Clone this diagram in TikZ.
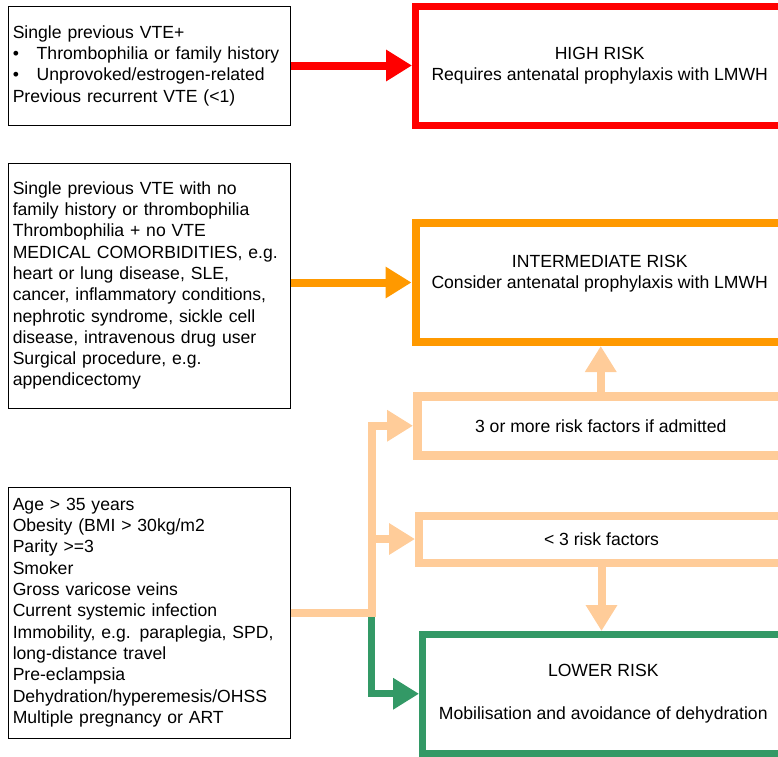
\documentclass[tikz,border=0pt]{standalone}
\usepackage{fontspec}
\setmainfont{Liberation Sans}
\usetikzlibrary{arrows.meta}
\definecolor{riskred}{HTML}{FF0000}
\definecolor{riskorange}{HTML}{FF9900}
\definecolor{riskpale}{HTML}{FFCC99}
\definecolor{riskgreen}{HTML}{339966}

\begin{document}
\begin{tikzpicture}[x=1pt,y=-1pt,
  every node/.style={font=\fontsize{17.6pt}{21.3pt}\selectfont},
  factors/.style={draw=black,line width=0.8pt,text width=273pt,align=left,inner xsep=4.5pt,minimum height=#1},
  risk/.style={draw=#1,align=center,inner sep=0pt},
  flow/.style={line width=8pt,-{Triangle[length=26pt,width=30pt]}}]
\useasboundingbox (0,0) rectangle (778,756);

\node[factors=119pt] (vte1) at (149.25,65.5) {Single previous VTE+\\
\makebox[24pt][l]{\textbullet}Thrombophilia or family history\\
\makebox[24pt][l]{\textbullet}Unprovoked/estrogen-related\\
Previous recurrent VTE (<1)};
\node[factors=245pt] (vte2) at (149.25,285.5) {Single previous VTE with no\\
family history or thrombophilia\\
Thrombophilia + no VTE\\
MEDICAL COMORBIDITIES, e.g.\\
heart or lung disease, SLE,\\
cancer, inflammatory conditions,\\
nephrotic syndrome, sickle cell\\
disease, intravenous drug user\\
Surgical procedure, e.g.\\
appendicectomy};
\node[factors=251pt] (minor) at (149.25,612.5) {Age > 35 years\\
Obesity (BMI > 30kg/m2\\
Parity >=3\\
Smoker\\
Gross varicose veins\\
Current systemic infection\\
Immobility, e.g. paraplegia, SPD,\\
long-distance travel\\
Pre-eclampsia\\
Dehydration/hyperemesis/OHSS\\
Multiple pregnancy or ART};

\node[risk=riskred,line width=7pt,minimum width=368.5pt,minimum height=119pt] (high) at (599.75,65.5) {HIGH RISK\\Requires antenatal prophylaxis with LMWH};
\node[risk=riskorange,line width=8pt,minimum width=368.5pt,minimum height=119pt] (inter) at (599.75,282.5) {INTERMEDIATE RISK\\Consider antenatal prophylaxis with LMWH\\~};
\node[risk=riskpale,line width=9pt,minimum width=366.5pt,minimum height=59.5pt] (three) at (600.75,425.75) {3 or more risk factors if admitted};
\node[risk=riskpale,line width=8pt,minimum width=365pt,minimum height=47pt] (fewer) at (601.5,539) {< 3 risk factors};
\node[risk=riskgreen,line width=7pt,minimum width=361.5pt,minimum height=118.5pt] (low) at (603.25,693.75) {LOWER RISK\\[21.5pt]Mobilisation and avoidance of dehydration};

\coordinate (split) at (371.5,612.5);
\draw[flow,riskred] (vte1.east) -- (high.west);
\draw[flow,riskorange] (vte2.east |- inter.west) -- (inter.west);
\draw[flow,riskgreen,line width=7pt] (split) |- (low.west);
\draw[flow,riskpale] (minor.east) -- (split) |- (three.west);
\draw[flow,riskpale] (split) |- (fewer.west);
\draw[flow,riskpale] (three.north) -- (three.north |- inter.south);
\draw[flow,riskpale] (fewer.south) -- (fewer.south |- low.north);
\end{tikzpicture}
\end{document}
